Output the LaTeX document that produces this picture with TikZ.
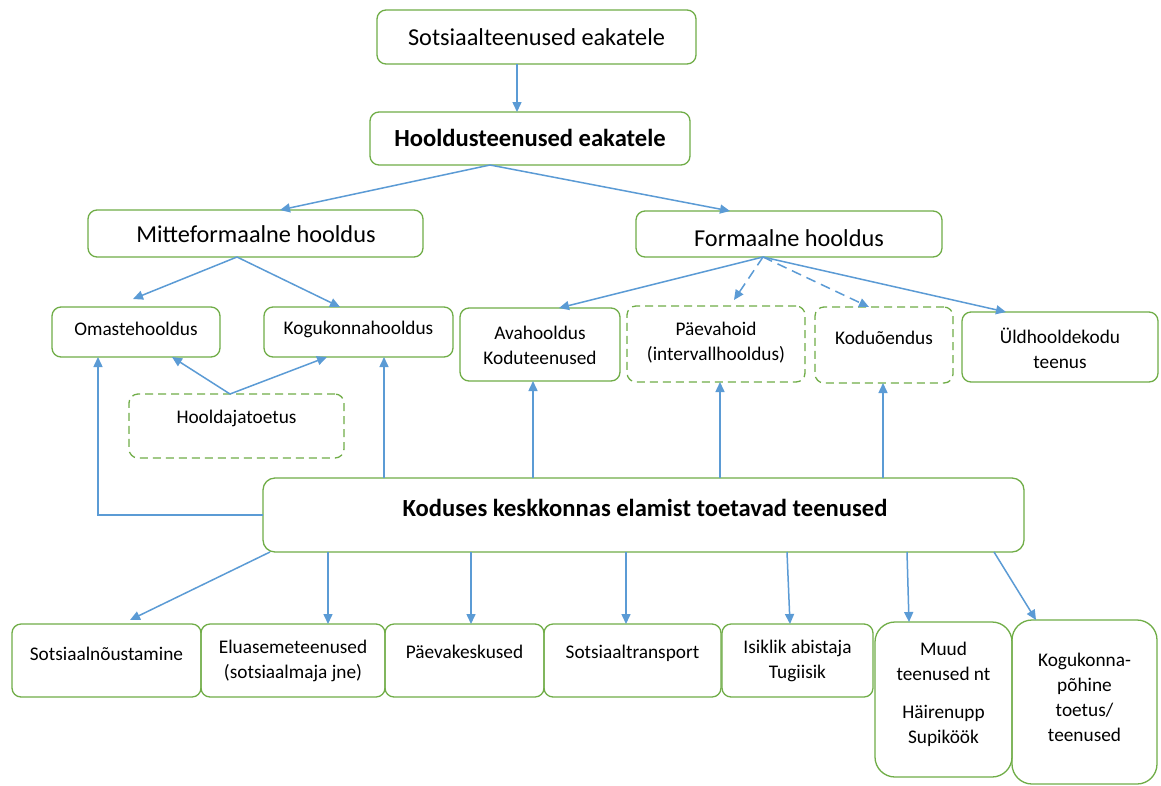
\documentclass[tikz,border=0pt]{standalone}
\usepackage{fontspec}
\setmainfont{Carlito}
\usetikzlibrary{arrows.meta}
\definecolor{bgreen}{HTML}{70AD47}
\definecolor{ablue}{HTML}{5B9BD5}
\tikzset{
  box/.style={draw=bgreen, line width=1.3pt, rounded corners=9pt, inner sep=0pt, outer sep=0pt},
  dbox/.style={box, dash pattern=on 8pt off 5pt},
  arr/.style={draw=ablue, line width=1.5pt, -{Triangle[length=10pt,width=9pt]}},
  darr/.style={arr, dash pattern=on 10pt off 6pt},
  big/.style={font=\fontsize{24.3}{28}\selectfont, inner sep=0pt},
  bigb/.style={font=\bfseries\fontsize{24.6}{28}\selectfont, inner sep=0pt},
  small/.style={font=\fontsize{19.3}{25}\selectfont, align=center, inner sep=0pt},
}
\begin{document}
\begin{tikzpicture}[x=1pt,y=-1pt]
\useasboundingbox[fill=white] (0,0) rectangle (1161,785);
% boxes
\node[box, minimum width=319pt, minimum height=54pt] (top) at (536.5,37) {};
\node[box, minimum width=320pt, minimum height=53pt] (hoold) at (530,138.5) {};
\node[box, minimum width=335pt, minimum height=47pt] (mitte) at (255.5,233.5) {};
\node[box, minimum width=306pt, minimum height=46pt] (formal) at (789,234) {};
\node[box, minimum width=168pt, minimum height=50pt] (omaste) at (136,332) {};
\node[box, minimum width=189pt, minimum height=50pt] (kogu) at (358.5,332) {};
\node[dbox, minimum width=215pt, minimum height=64pt] (hooldaja) at (236.5,426) {};
\node[box, minimum width=160pt, minimum height=73pt] (ava) at (540,344.5) {};
\node[dbox, minimum width=178pt, minimum height=76pt] (paeva) at (716,344) {};
\node[dbox, minimum width=138pt, minimum height=76pt] (kodu) at (884,345) {};
\node[box, minimum width=196pt, minimum height=70pt] (yld) at (1060,347) {};
\node[box, minimum width=761pt, minimum height=74pt, rounded corners=12pt] (kesk) at (643.5,515) {};
\node[box, minimum width=189pt, minimum height=73pt] (s1) at (106.5,660.5) {};
\node[box, minimum width=184pt, minimum height=73pt] (s2) at (293,660.5) {};
\node[box, minimum width=159pt, minimum height=73pt] (s3) at (464.5,660.5) {};
\node[box, minimum width=177pt, minimum height=73pt] (s4) at (632.5,660.5) {};
\node[box, minimum width=151pt, minimum height=73pt] (s5) at (797.5,660.5) {};
\node[box, minimum width=137pt, minimum height=155pt, rounded corners=20pt] (s6) at (943.5,699.5) {};
\node[box, minimum width=145pt, minimum height=164pt, rounded corners=20pt] (s7) at (1084.5,702) {};
% texts
\node[big] (ttop) at (536.5,37) {Sotsiaalteenused eakatele};
\node[bigb] (thoold) at (530,138) {Hooldusteenused eakatele};
\node[big] (tmitte) at (256,234) {Mitteformaalne hooldus};
\node[big] (tformal) at (789,238) {Formaalne hooldus};
\node[small] (tomaste) at (136,329) {Omastehooldus};
\node[small] (tkogu) at (358.5,329) {Kogukonnahooldus};
\node[small] (thooldaja) at (236.5,418) {Hooldajatoetus};
\node[small] (tava) at (540,345.5) {Avahooldus\\Koduteenused};
\node[small] (tpaeva) at (716,342.5) {Päevahoid\\(intervallhooldus)};
\node[small] (tkodu) at (884,338) {Koduõendus};
\node[small] (tyld) at (1060,348.5) {Üldhooldekodu\\teenus};
\node[bigb] (tkesk) at (645,508) {Koduses keskkonnas elamist toetavad teenused};
\node[small] (ts1) at (106.5,654) {Sotsiaalnõustamine};
\node[small] (ts2) at (293,660.5) {Eluasemeteenused\\(sotsiaalmaja jne)};
\node[small] (ts3) at (464.5,652) {Päevakeskused};
\node[small] (ts4) at (632.5,653) {Sotsiaaltransport};
\node[small] (ts5) at (797.5,660.5) {Isiklik abistaja\\Tugiisik};
\node[small] (ts6) at (943.5,694) {Muud\\teenused nt\\[13pt]Häirenupp\\Supiköök};
\node[small] (ts7) at (1084.5,697.5) {Kogukonna-\\põhine\\toetus/\\teenused};
% arrows
\draw[arr] ([xshift=-19.5pt]top.south) -- ([xshift=-13pt]hoold.north);
\draw[arr] ([xshift=-40pt]hoold.south) -- ([xshift=24.5pt]mitte.north);
\draw[arr] ([xshift=-40pt]hoold.south) -- ([xshift=-59pt]formal.north);
\draw[arr] ([xshift=-18.5pt]mitte.south) -- ([xshift=-3pt,yshift=8pt]omaste.north);
\draw[arr] ([xshift=-18.5pt]mitte.south) -- ([xshift=-18.5pt]kogu.north);
\draw[arr] ([xshift=-6.5pt]hooldaja.north) -- ([xshift=36pt]omaste.south);
\draw[arr] ([xshift=-6.5pt]hooldaja.north) -- ([xshift=-31.5pt]kogu.south);
\draw[arr] ([xshift=-26pt]formal.south) -- ([xshift=19pt]ava.north);
\draw[darr] ([xshift=-26pt]formal.south) -- ([xshift=18pt,yshift=6pt]paeva.north);
\draw[darr] ([xshift=-26pt]formal.south) -- ([xshift=-15pt]kodu.north);
\draw[arr] ([xshift=-26pt]formal.south) -- ([xshift=-54pt]yld.north);
\draw[arr] (kesk.west) -| ([xshift=-38pt]omaste.south);
\draw[arr] ([xshift=-259.5pt]kesk.north) -- ([xshift=25.5pt]kogu.south);
\draw[arr] ([xshift=-110.5pt]kesk.north) -- ([xshift=-7pt]ava.south);
\draw[arr] ([xshift=76.5pt]kesk.north) -- ([xshift=4pt]paeva.south);
\draw[arr] ([xshift=239.5pt]kesk.north) -- ([xshift=-1pt]kodu.south);
\draw[arr] ([xshift=-373.5pt]kesk.south) -- ([xshift=23.5pt,yshift=4pt]s1.north);
\draw[arr] ([xshift=-315.5pt]kesk.south) -- ([xshift=35pt]s2.north);
\draw[arr] ([xshift=-172.5pt]kesk.south) -- ([xshift=6.5pt]s3.north);
\draw[arr] ([xshift=-17.5pt]kesk.south) -- ([xshift=-6.5pt]s4.north);
\draw[arr] ([xshift=143.5pt]kesk.south) -- ([xshift=-7.5pt]s5.north);
\draw[arr] ([xshift=263.5pt]kesk.south) -- ([xshift=-34.5pt]s6.north);
\draw[arr] ([xshift=350.5pt]kesk.south) -- ([xshift=-48.5pt]s7.north);
\end{tikzpicture}
\end{document}
